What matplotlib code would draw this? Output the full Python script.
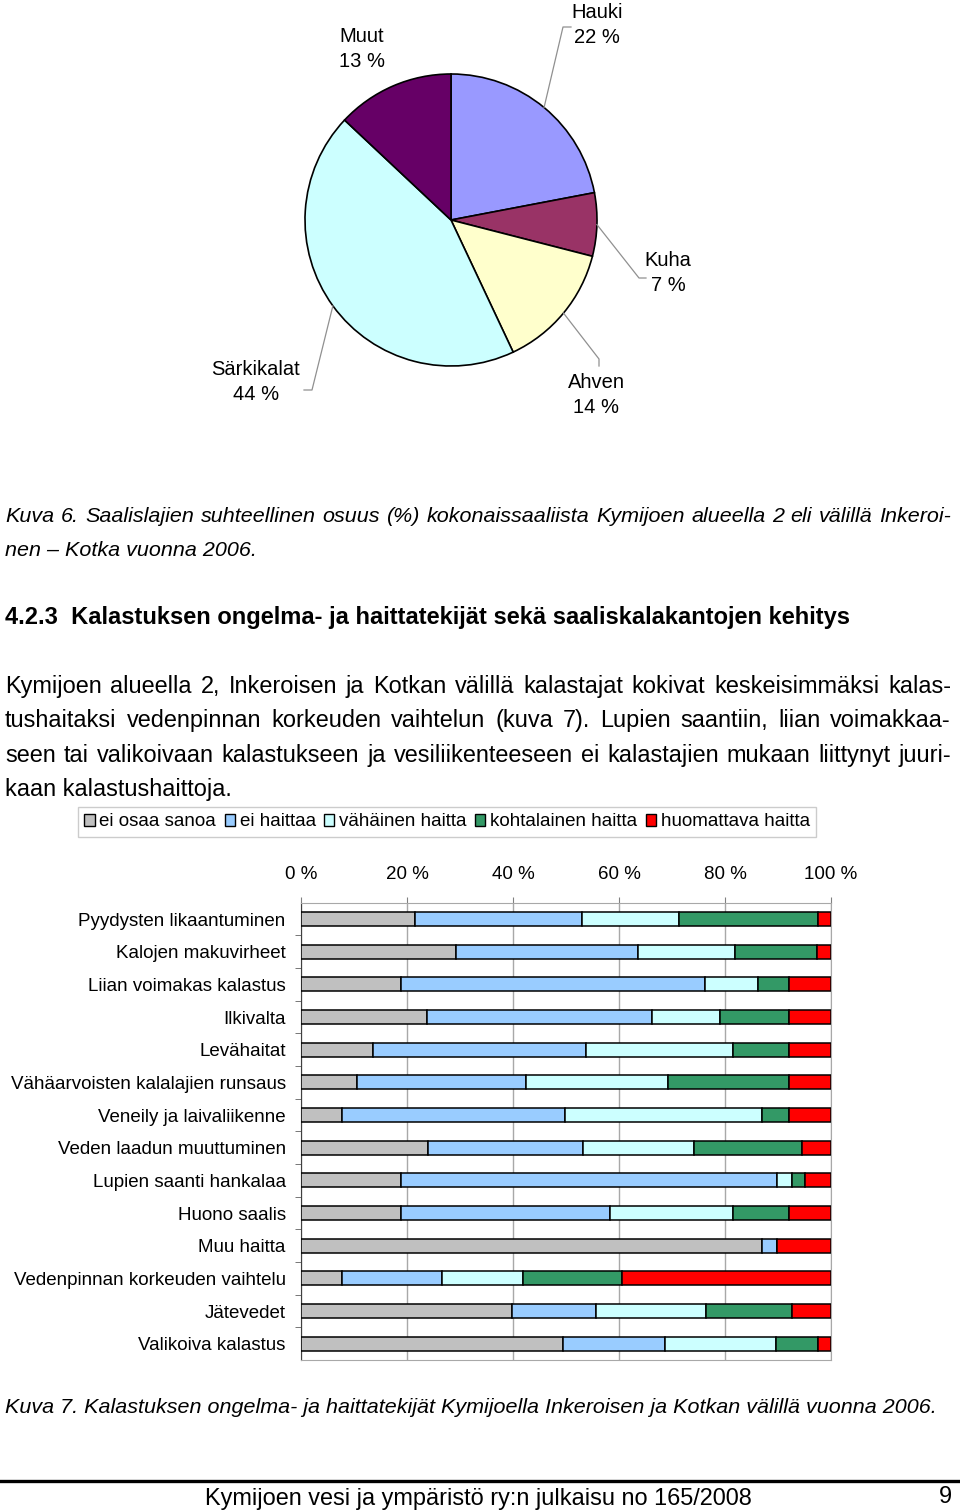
import matplotlib
matplotlib.use('Agg')
import matplotlib.pyplot as plt
from matplotlib import font_manager as fm
from matplotlib.patches import Patch
import numpy as np

W, H = 960, 1512

# pie data (Kuva 6)
species = ['Hauki', 'Kuha', 'Ahven', 'Särkikalat', 'Muut']
shares = [22, 7, 14, 44, 13]
pie_colors = ['#9999FF', '#993366', '#FFFFCC', '#CCFFFF', '#660066']

# bar data (Kuva 7)
factors = ['Pyydysten likaantuminen', 'Kalojen makuvirheet', 'Liian voimakas kalastus',
           'Ilkivalta', 'Levähaitat', 'Vähäarvoisten kalalajien runsaus',
           'Veneily ja laivaliikenne', 'Veden laadun muuttuminen', 'Lupien saanti hankalaa',
           'Huono saalis', 'Muu haitta', 'Vedenpinnan korkeuden vaihtelu', 'Jätevedet',
           'Valikoiva kalastus']
answers = ['ei osaa sanoa', 'ei haittaa', 'vähäinen haitta', 'kohtalainen haitta',
           'huomattava haitta']
ei_osaa = [21.5, 29.3, 18.8, 23.7, 13.6, 10.6, 7.8, 23.9, 18.8, 18.8, 87.0, 7.8, 39.8, 49.5]
ei_haittaa = [31.5, 34.2, 57.4, 42.5, 40.1, 31.9, 42.0, 29.4, 71.1, 39.5, 2.9, 18.8, 15.9, 19.1]
vahainen = [18.3, 18.3, 10.1, 12.8, 27.8, 26.7, 37.2, 20.8, 2.8, 23.2, 0.0, 15.3, 20.8, 21.0]
kohtalainen = [26.2, 15.5, 5.8, 13.1, 10.6, 22.9, 5.1, 20.4, 2.3, 10.6, 0.0, 18.6, 16.2, 7.9]
huomattava = [2.5, 2.7, 7.9, 7.9, 7.9, 7.9, 7.9, 5.5, 5.0, 7.9, 10.1, 39.5, 7.3, 2.5]
bar_colors = ['#C0C0C0', '#99CCFF', '#CCFFFF', '#339966', '#FF0000']
xticks = [0, 20, 40, 60, 80, 100]

names = {f.name for f in fm.fontManager.ttflist}
SANS = 'Liberation Sans'
NARROW = 'Liberation Sans Narrow' if 'Liberation Sans Narrow' in names else SANS
plt.rcParams['font.family'] = [SANS, 'DejaVu Sans']

fig = plt.figure(figsize=(W / 100, H / 100), dpi=100)
fig.patch.set_facecolor('white')
renderer = fig.canvas.get_renderer()


def fy(py):
    return 1 - py / H


# ---------- pie ----------
cx, cy, R = 451, 220, 146
axp = fig.add_axes([0, fy(440), 1, 440 / H])
wedges, _ = axp.pie(shares, colors=pie_colors, startangle=90, counterclock=False,
                    radius=1, wedgeprops=dict(edgecolor='black', linewidth=1.2))
axp.set_aspect('auto')
axp.set_xlim(-cx / R, (W - cx) / R)
axp.set_ylim((cy - 440) / R, cy / R)
axp.axis('off')


def p2d(px, py):
    return (px - cx) / R, (cy - py) / R


label_pos = {'Hauki': (597, 25), 'Kuha': (668, 273), 'Ahven': (596, 395),
             'Särkikalat': (256, 382), 'Muut': (362, 49)}
leader = {'Hauki': [(563, 27), (571, 27)], 'Kuha': [(639, 278), (646, 278)],
          'Ahven': [(599, 359), (599, 366)], 'Särkikalat': [(312, 390), (304, 390)]}
for w, name, val in zip(wedges, species, shares):
    lx, ly = p2d(*label_pos[name])
    axp.text(lx, ly, f'{name}\n{val} %', ha='center', va='center', fontsize=14.5,
             linespacing=1.45)
    if name in leader:
        mid = np.deg2rad((w.theta1 + w.theta2) / 2)
        pts = [(np.cos(mid), np.sin(mid))] + [p2d(*p) for p in leader[name]]
        xs, ys = zip(*pts)
        axp.plot(xs, ys, color='#909090', lw=0.9)


# ---------- running text ----------
def fit_size(s, target, **kw):
    t = fig.text(0, 0, s, fontsize=20, **kw)
    w = t.get_window_extent(renderer).width
    t.remove()
    return 20 * target / w


def put_line(s, y, size, justify=False, x0=5, x1=951, **kw):
    # y is the visual middle of the line; words sit on a common baseline
    yb = fy(y + 0.3 * size * 100 / 72)
    if not justify:
        fig.text(x0 / W, yb, s, fontsize=size, ha='left', va='baseline', **kw)
        return
    words = s.split(' ')
    texts = [fig.text(0, yb, wd, fontsize=size, ha='left', va='baseline', **kw)
             for wd in words]
    widths = [t.get_window_extent(renderer).width for t in texts]
    gap = (x1 - x0 - sum(widths)) / (len(words) - 1)
    x = x0
    for t, wd in zip(texts, widths):
        t.set_x(x / W)
        x += wd + gap


cap7 = 'Kuva 7. Kalastuksen ongelma- ja haittatekijät Kymijoella Inkeroisen ja Kotkan välillä vuonna 2006.'
cap_size = fit_size(cap7, 927, family=NARROW, style='italic')
put_line('Kuva 6. Saalislajien suhteellinen osuus (%) kokonaissaaliista Kymijoen alueella 2 eli välillä Inkeroi-',
         516, cap_size, justify=True, family=NARROW, style='italic')
put_line('nen – Kotka vuonna 2006.', 550, cap_size, family=NARROW, style='italic')

head = '4.2.3  Kalastuksen ongelma- ja haittatekijät sekä saaliskalakantojen kehitys'
put_line(head, 617, fit_size(head, 840, family=NARROW, weight='bold'),
         family=NARROW, weight='bold')

body = ['Kymijoen alueella 2, Inkeroisen ja Kotkan välillä kalastajat kokivat keskeisimmäksi kalas-',
        'tushaitaksi vedenpinnan korkeuden vaihtelun (kuva 7). Lupien saantiin, liian voimakkaa-',
        'seen tai valikoivaan kalastukseen ja vesiliikenteeseen ei kalastajien mukaan liittynyt juuri-',
        'kaan kalastushaittoja.']
body_size = fit_size(body[3], 225, family=NARROW)
for i, (line, y) in enumerate(zip(body, [686, 720, 755, 789])):
    put_line(line, y, body_size, justify=i < 3, family=NARROW)

put_line(cap7, 1407, cap_size, family=NARROW, style='italic')

# footer
foot = 'Kymijoen vesi ja ympäristö ry:n julkaisu no 165/2008'
fs = fit_size(foot, 547, family=NARROW)
fig.text(478 / W, fy(1505), foot, fontsize=fs, ha='center', va='baseline', family=NARROW)
fig.text(945 / W, fy(1503), '9', fontsize=fs, ha='center', va='baseline', family=NARROW)
fig.add_artist(plt.Line2D([0, 1], [fy(1481), fy(1481)], color='black', lw=2.4))

# ---------- stacked bars ----------
ax = fig.add_axes([301 / W, fy(1360), 530 / W, (1360 - 902.7) / H])
y = np.arange(len(factors))
left = np.zeros(len(factors))
for vals, lab, col in zip([ei_osaa, ei_haittaa, vahainen, kohtalainen, huomattava],
                          answers, bar_colors):
    ax.barh(y, vals, left=left, height=0.43, color=col, edgecolor='black',
            linewidth=1.1, label=lab, zorder=3)
    left += np.array(vals)

ax.set_xlim(0, 100)
ax.set_ylim(len(factors) - 0.5, -0.5)
ax.xaxis.tick_top()
ax.set_xticks(xticks)
ax.set_xticklabels([f'{v} %' for v in xticks], fontsize=13.5)
ax.tick_params(axis='x', length=4, color='#808080', pad=10)
ax.set_yticks(y)
ax.set_yticklabels(factors, fontsize=13.5)
ax.set_yticks(np.arange(len(factors) - 1) + 0.5, minor=True)
ax.tick_params(axis='y', which='major', length=0, pad=11)
ax.tick_params(axis='y', which='minor', length=4, color='#606060')
ax.grid(axis='x', color='#A8A8A8', lw=1, zorder=0)
for s in ['top', 'bottom', 'right']:
    ax.spines[s].set_color('#A8A8A8')
ax.spines['left'].set_color('#404040')

handles = [Patch(facecolor=c, edgecolor='black', lw=1) for c in bar_colors]
leg = fig.legend(handles, answers, loc='center', bbox_to_anchor=(447 / W, fy(822)),
                 ncol=5, fontsize=13.5, frameon=True, fancybox=False,
                 handlelength=0.55, handleheight=0.55, handletextpad=0.25,
                 columnspacing=0.45, borderpad=0.35, borderaxespad=0)
leg.get_frame().set_edgecolor('#C0C0C0')
leg.get_frame().set_linewidth(1)

fig.savefig('out.png', dpi=100, facecolor='white')
